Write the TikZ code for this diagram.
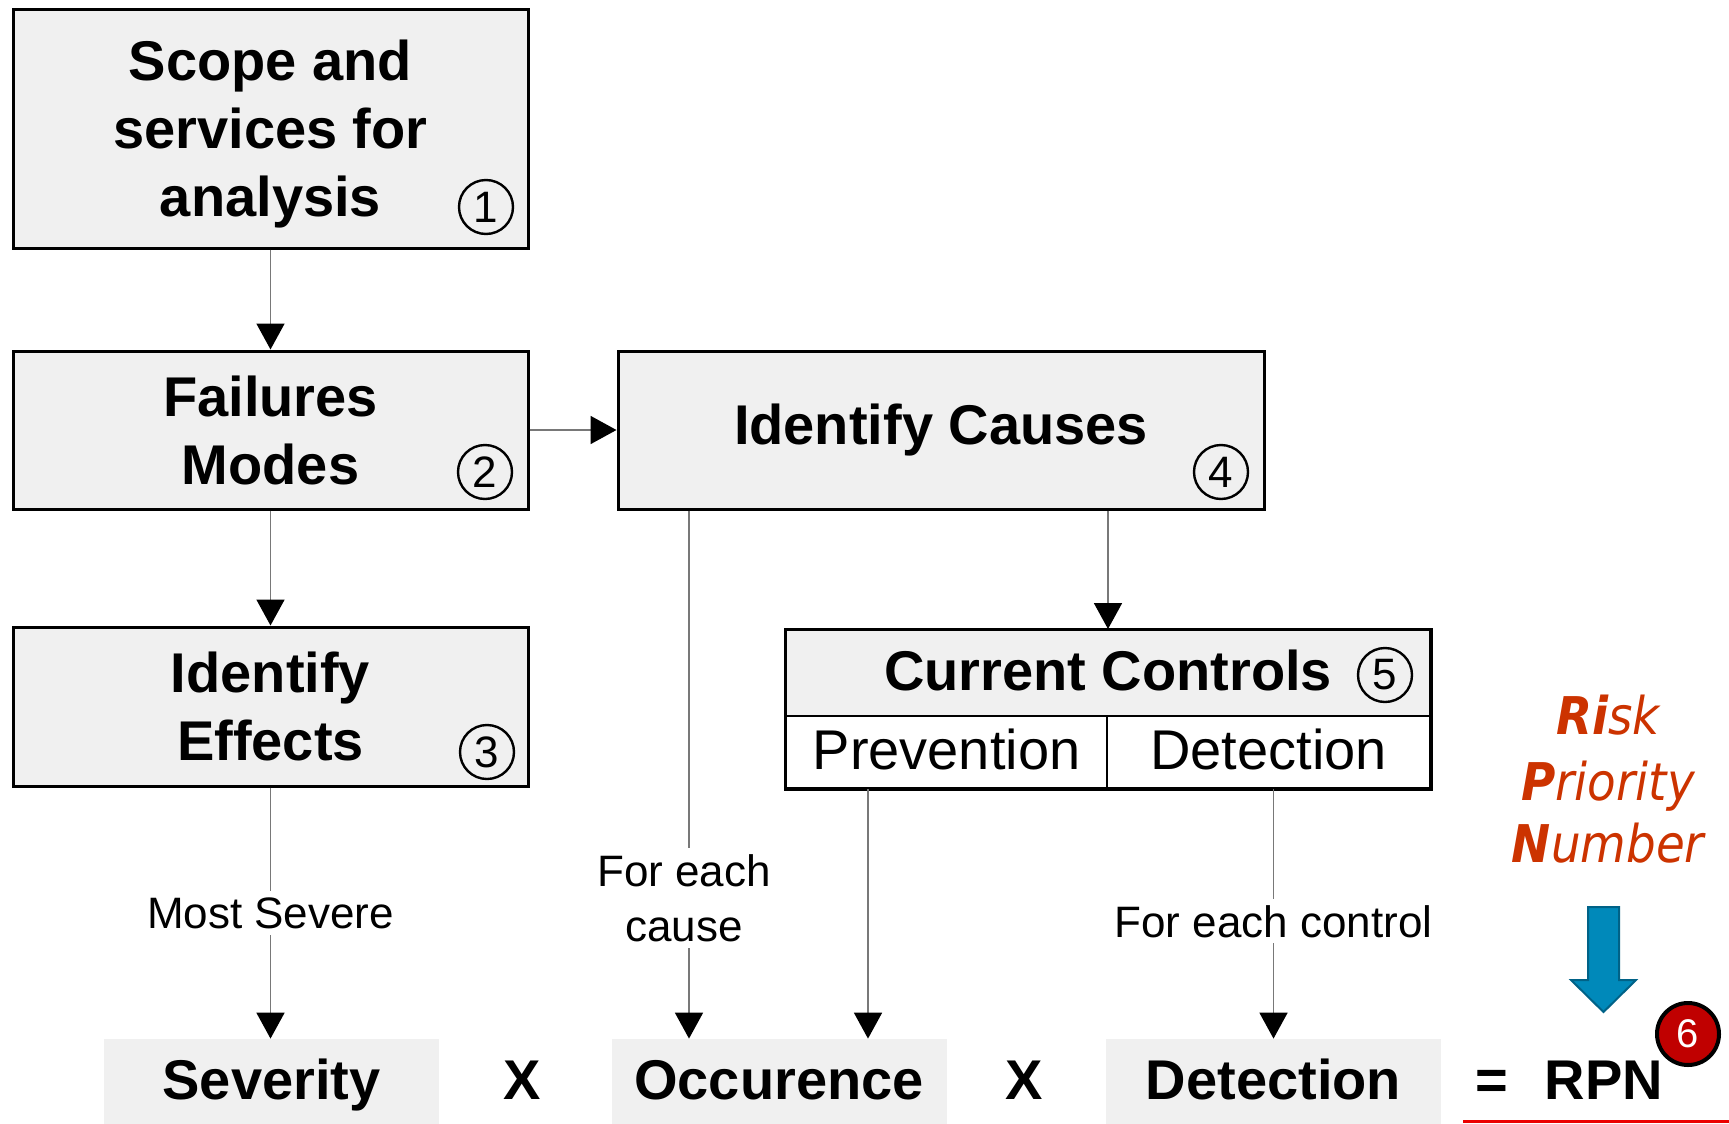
\documentclass[tikz,border=0pt]{standalone}
\usepackage{fontspec}
\setmainfont{Liberation Sans}
\newfontfamily\rpnfont[FakeStretch=0.9]{DejaVu Sans}
\usetikzlibrary{arrows.meta}
\definecolor{boxgray}{RGB}{240,240,240}
\definecolor{linegray}{RGB}{120,120,120}
\definecolor{rpnred}{RGB}{204,51,0}
\definecolor{badgered}{RGB}{192,0,0}
\definecolor{arrowblue}{RGB}{0,137,186}
\definecolor{arrowedge}{RGB}{0,98,135}
\definecolor{rulered}{RGB}{235,0,0}
\begin{document}
\begin{tikzpicture}[x=0.5pt,y=-0.5pt,
  stepbox/.style={draw=black, line width=1.5pt, fill=boxgray, align=center,
    inner sep=0pt, font=\fontsize{28}{34}\selectfont\bfseries},
  cell/.style={draw=black, line width=1pt, inner sep=0pt,
    font=\fontsize{28}{34}\selectfont, text height=20pt, text depth=3pt},
  badge/.style={circle, draw=black, line width=1.2pt, minimum size=27pt,
    inner sep=0pt, font=\fontsize{22}{22}\selectfont},
  factor/.style={fill=boxgray, minimum width=167.5pt, minimum height=42.5pt,
    inner sep=0pt, font=\fontsize{28}{34}\selectfont\bfseries,
    text height=20pt, text depth=2.5pt},
  optext/.style={inner sep=0pt, anchor=base, font=\fontsize{28}{34}\selectfont\bfseries},
  conn/.style={draw=linegray, line width=0.9pt,
    -{Triangle[width=14pt,length=13pt,color=black]}},
  lbl/.style={fill=white, inner sep=3pt, align=center,
    font=\fontsize{22}{27.5}\selectfont},
  rpnline/.style={anchor=base, inner sep=0pt, text=rpnred,
    font=\fontsize{26}{32}\rpnfont\itshape}
]
% canvas
\fill[white] (0,0) rectangle (1729,1124);
\useasboundingbox (0,0) rectangle (1729,1124);

% process steps
\node[stepbox, minimum width=257.5pt, minimum height=119.5pt, text depth=0pt] (b1) at (270.5,128.5)
  {Scope and\\services for\\analysis};
\node[stepbox, minimum width=257.5pt, minimum height=79pt] (b2) at (270.5,430)
  {Failures\\Modes};
\node[stepbox, minimum width=257.5pt, minimum height=79.5pt] (b3) at (270.5,706.5)
  {Identify\\Effects};
\node[stepbox, minimum width=323pt, minimum height=79pt] (b4) at (941,430)
  {Identify Causes};

% current controls table
\node[cell, fill=boxgray, font=\fontsize{28}{34}\selectfont\bfseries,
  minimum width=322pt, minimum height=43pt] (cc) at (1108,673) {Current Controls};
\node[cell, fill=white, minimum width=160.5pt, minimum height=36pt] (prev) at (946.5,752) {Prevention};
\node[cell, fill=white, minimum width=161.5pt, minimum height=36pt] (detc) at (1268.5,752) {Detection};
\draw[line width=1.5pt] (cc.north west) rectangle (detc.south east);

% step numbers
\node[badge] (n1) at (486,207) {1};
\node[badge] (n2) at (485,472) {2};
\node[badge] (n3) at (487,752) {3};
\node[badge] (n4) at (1221,472) {4};
\node[badge] (n5) at (1385,675) {5};

% rating factors
\node[factor] (sev) at (271.5,1081.5) {Severity};
\node[factor] (occ) at (779,1081.5) {Occurence};
\node[factor] (det) at (1273.5,1081.5) {Detection};
\node[optext] (x1) at (522,1099) {X};
\node[optext] (x2) at (1024,1099) {X};
\node[optext] (eq) at (1492,1099) {=};
\node[optext] (rpn) at (1604,1099) {RPN};

% connectors
\coordinate (xcause) at (689,0);
\coordinate (xprev) at (868,0);
\draw[conn] (b1.south) -- (b2.north);
\draw[conn] (b2.south) -- (b3.north);
\draw[conn] (b2.east) -- (b4.west);
\draw[conn] (b4.south -| cc.north) -- (cc.north);
\draw[conn] (b3.south) -- node[lbl] (ms) {Most Severe} (b3.south |- sev.north);
\draw[conn] (xcause |- b4.south) -- node[lbl, pos=0.734, xshift=-2.5pt] (fec) {For each\\cause} (xcause |- occ.north);
\draw[conn] (xprev |- prev.south) -- (xprev |- occ.north);
\draw[conn] (det.north |- detc.south) -- node[lbl, pos=0.53] (fctl) {For each control} (det.north);

% risk priority number
\node[rpnline] (rk) at (1608,734) {\bfseries Ri\mdseries sk};
\node[rpnline] (pr) at (1608,800) {\bfseries P\mdseries riority};
\node[rpnline] (nb) at (1608,862) {\bfseries N\mdseries umber};
\draw[fill=arrowblue, draw=arrowedge, line width=1pt]
  (1588,907) -- (1619,907) -- (1619,980) -- (1636,980) -- (1603.5,1012)
  -- (1571,980) -- (1588,980) -- cycle;
\node[circle, fill=badgered, draw=black, line width=2pt, minimum size=31pt,
  inner sep=0pt, text=white, font=\fontsize{20}{20}\selectfont] (n6) at (1688,1034) {6};
\draw[rulered, line width=1.5pt] (1463,1121) -- (1729,1121);
\end{tikzpicture}
\end{document}
